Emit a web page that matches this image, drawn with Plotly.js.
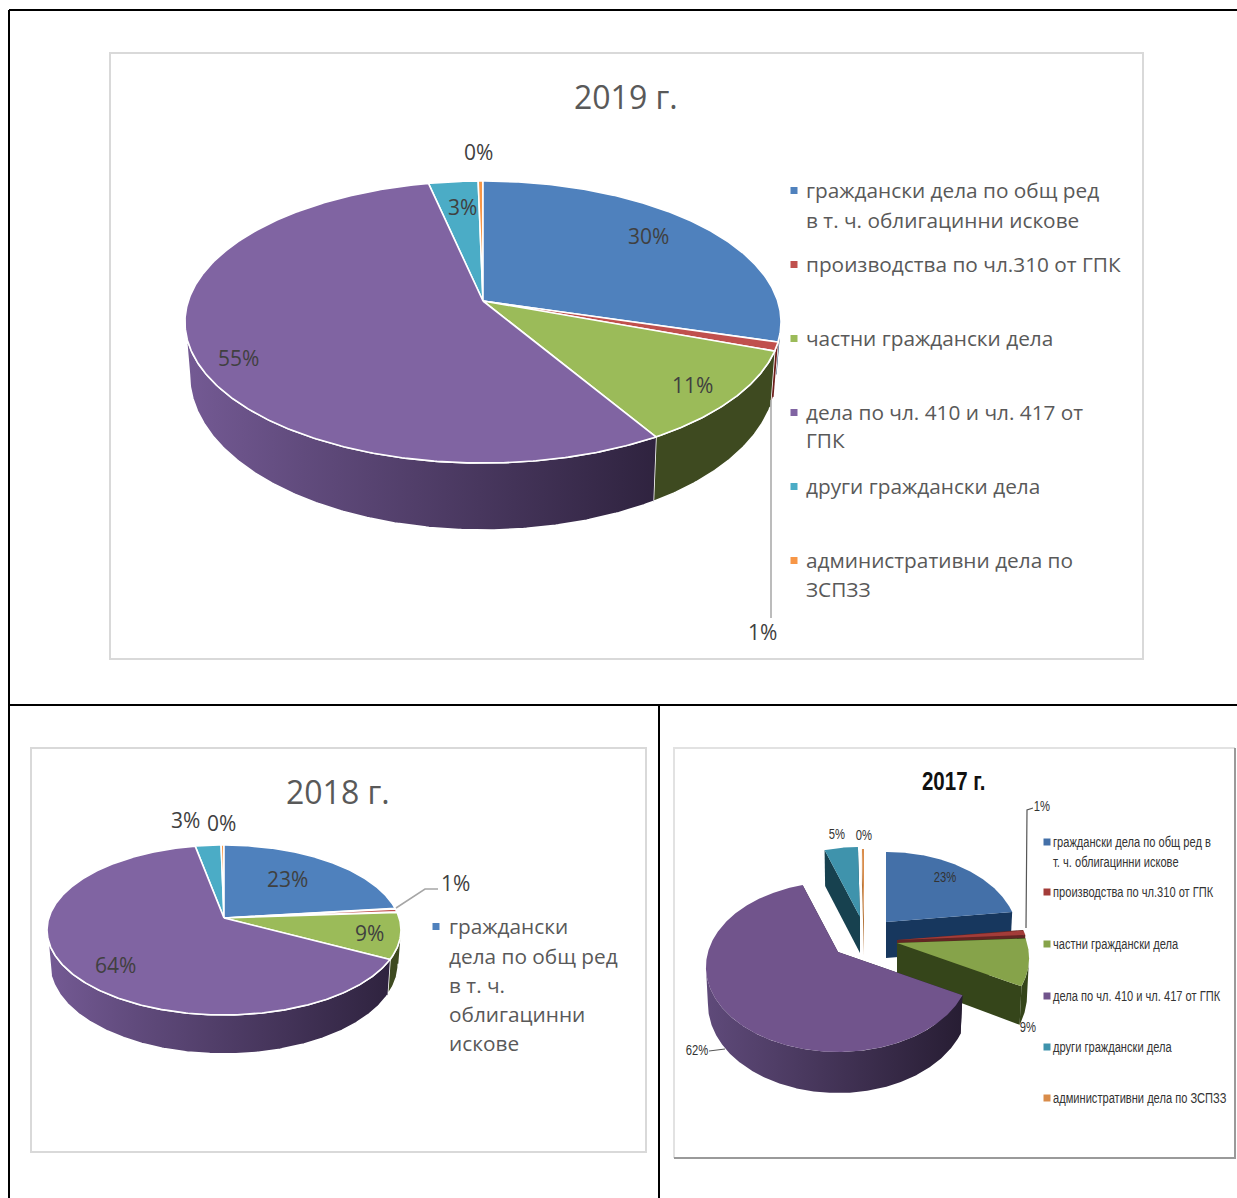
<!DOCTYPE html>
<html><head><meta charset="utf-8">
<script src="https://cdn.plot.ly/plotly-3.0.1.min.js"></script>
<style>html,body{margin:0;padding:0;background:#fff}#c{width:1237px;height:1198px}</style>
</head><body><div id="c"></div>
<script>
const categories = ['граждански дела по общ ред в т. ч. облигационни искове','производства по чл.310 от ГПК','частни граждански дела','дела по чл. 410 и чл. 417 от ГПК','други граждански дела','административни дела по ЗСПЗЗ'];
const values2019 = [29.6, 1.0, 10.85, 55.15, 3.1, 0.3];
const values2018 = [23.1, 0.7, 8.9, 64.3, 2.7, 0.3];
const values2017 = [23.0, 1.0, 9.0, 61.85, 4.85, 0.3];
const legend2019 = [['граждански дела по общ ред','в т. ч. облигацинни искове'],['производства по чл.310 от ГПК'],['частни граждански дела'],['дела по чл. 410 и чл. 417 от','ГПК'],['други граждански дела'],['административни дела по','ЗСПЗЗ']];
const legend2018 = [['граждански','дела по общ ред','в т. ч.','облигацинни','искове']];
const legend2017 = [['граждански дела по общ ред в','т. ч. облигацинни искове'],['производства по чл.310 от ГПК'],['частни граждански дела'],['дела по чл. 410 и чл. 417 от ГПК'],['други граждански дела'],['административни дела по ЗСПЗЗ']];

const palette = {
  top:['#4f81bd','#c0504d','#9bbb59','#8064a2','#4bacc6','#f79646'],
  wall:['#1a3a60','#6e1f1c','#3e4a20',null,'#1a4553','#9c5a20'],
  grad:[[0,'#745a94'],[0.25,'#614b7d'],[1,'#2f233f']]
};
const palette17 = {
  top:['#4470a8','#a33c39','#86a34a','#71548c','#3f93ac','#d98c4a'],
  wall:['#17375e','#632523','#35451a',null,'#17414f','#b5763c'],
  grad:[[0,'#5f4a7a'],[1,'#271d33']]
};
const traces = [];
function pt(g,c,f,base){
  const th=2*Math.PI*f,u=Math.sin(th),v=Math.cos(th),w=1+g.k*v;
  const s=base?g.s:1;
  return [c[0]+g.A*u/w*s, c[1]-g.B*v/w+(base?g.d0+g.d1*Math.max(0,-v):0)];
}
function arc(g,c,a,b,base){
  const n=Math.max(2,Math.ceil((b-a)*720)),xs=[],ys=[];
  for(let i=0;i<=n;i++){const p=pt(g,c,a+(b-a)*i/n,base);xs.push(p[0]);ys.push(p[1]);}
  return [xs,ys];
}
function drawPie(name,vals,g,pal){
  const tot=vals.reduce((a,b)=>a+b,0);
  const fR=Math.acos(-g.k)/(2*Math.PI),fL=1-fR;
  const line=g.white?{color:'#fff',width:g.white}:{width:0};
  let acc=0;const sl=vals.map((v,i)=>{const a=acc/tot;acc+=v;return {i,a,b:acc/tot,c:g.centers?g.centers[i]:g.c};});
  const order=g.order||[4,5,0,1,2,3];
  order.forEach(i=>{
    const s=sl[i];
    const fill=pal.wall[i];
    const wallStyle=fill?{fillcolor:fill}:{fillgradient:{type:'horizontal',colorscale:pal.grad}};
    if(g.centers){
      [s.a,s.b].forEach(f=>{
        const p=pt(g,s.c,f,false),q=pt(g,s.c,f,true);
        traces.push({x:[s.c[0],p[0],q[0],s.c[0]],y:[s.c[1],p[1],q[1],s.c[1]+g.d0],mode:'lines',fill:'toself',
          fillcolor:fill||pal.grad[pal.grad.length-1][1],line:{width:0},hoverinfo:'skip',showlegend:false});
      });
    }
    const a=Math.max(s.a,fR),b=Math.min(s.b,fL);
    if(b>a){
      const t=arc(g,s.c,a,b,false),o=arc(g,s.c,a,b,true);
      traces.push(Object.assign({x:t[0].concat(o[0].slice().reverse()),y:t[1].concat(o[1].slice().reverse()),
        mode:'lines',fill:'toself',line:line,hoverinfo:'skip',showlegend:false},wallStyle));
    }
    const t=arc(g,s.c,s.a,s.b,false);
    traces.push({x:[s.c[0]].concat(t[0],[s.c[0]]),y:[s.c[1]].concat(t[1],[s.c[1]]),mode:'lines',fill:'toself',
      fillcolor:pal.top[i],line:line,name:name+' '+categories[i],hoverinfo:'name',showlegend:false});
  });
}
drawPie('2019',values2019,{c:[483,301],A:294.7,B:137.9,k:0.149,s:0.985,d0:50,d1:17,white:1.6},palette);
drawPie('2018',values2018,{c:[224,918],A:175.2,B:83.3,k:0.141,s:0.985,d0:33,d1:6,white:1.6},palette);
drawPie('2017',values2017,{A:130,B:82.4,k:0.176,s:0.985,d0:36,d1:5,white:0,
  order:[0,4,5,1,2,3],
  centers:[[886,922],[897,940],[897,943],[838,952],[860,917],[864,919]]},palette17);

const ann=[];const narrow=[];
function T(text,x,y,size,color,family,extra,squeeze){
  if(squeeze) narrow.push([ann.length,squeeze]);
  ann.push(Object.assign({text:text,x:x,y:y,xref:'x',yref:'y',showarrow:false,xanchor:'center',yanchor:'middle',
    font:{size:size,color:color,family:family}},extra||{}));
}
const F19='"Open Sans", sans-serif',F17='"Liberation Sans", sans-serif';
const pct=v=>Math.round(v)+'%';
T('2019 г.',626,96,32,'#595959',F19);
T('2018 г.',338,791,32,'#595959',F19);
T('<b>2017 г.</b>',953,781,25,'#111',F17,null,0.82);
[[648,236],[762,632],[692,385],[238,358],[462,207],[478,152]].forEach((p,i)=>T(pct(values2019[i]),p[0],p[1],21,'#404040',F19));
[[287,879],[455,883],[369,933],[115,965],[185,820],[221,823]].forEach((p,i)=>T(pct(values2018[i]),p[0],p[1],21,'#404040',F19));
[[945,876],[1042,805],[1028,1026],[697,1049],[837,833],[864,834]].forEach((p,i)=>T(pct(values2017[i]),p[0],p[1],15,'#333',F17,null,0.75));

function legendBlock(lines,rows,mx,tx,size,color,family,colors,msize,squeeze){
  const lx=[],ly=[],lc=[];
  lines.forEach((ls,i)=>{
    ls.forEach((s,j)=>T(s,tx,rows[i][j],size,color,family,{xanchor:'left'},squeeze));
    lx.push(mx);ly.push(rows[i][0]+(squeeze?1:0.5));lc.push(colors[i]);
  });
  traces.push({x:lx,y:ly,mode:'markers',marker:{symbol:'square',size:msize,color:lc},hoverinfo:'skip',showlegend:false});
}
legendBlock(legend2019,[[190,220],[264],[338],[412,440],[486],[560,589]],794,804,20.8,'#595959',F19,palette.top,7);
legendBlock(legend2018,[[926,956,985,1014,1043]],436,447,20.8,'#595959',F19,palette.top,7);
legendBlock(legend2017,[[841,861],[891],[943],[995],[1046],[1097]],1047,1051,15,'#333',F17,palette17.top,7,0.74);

const rect=(x0,y0,x1,y1,c,w)=>({type:'rect',xref:'x',yref:'y',x0,y0,x1,y1,line:{color:c,width:w},fillcolor:'rgba(0,0,0,0)',layer:'below'});
const seg=(p,c,w)=>({type:'path',xref:'x',yref:'y',path:p,line:{color:c,width:w},layer:'above'});
const shapes=[
  rect(110,53,1143,659,'#d9d9d9',2),rect(31,748,646,1152,'#d9d9d9',2),
  seg('M674,1158L674,748L1235,748','#e2e2e2',2),seg('M674,1158L1235,1158L1235,748','#9a9a9a',2),
  seg('M9,10L1237,10','#000',2),seg('M9,10L9,1198','#000',2),seg('M9,705L1237,705','#000',2),seg('M659,705L659,1198','#000',2),
  seg('M771,400L771,618','#a6a6a6',1.5),
  seg('M396,908L425,889L438,889','#a6a6a6',1.5),
  seg('M1026,928L1027,810L1033,808','#555',1.2),
  seg('M709,1051L725,1049','#555',1)
];
Plotly.newPlot('c',traces,{
  width:1237,height:1198,margin:{l:0,r:0,t:0,b:0},paper_bgcolor:'#fff',plot_bgcolor:'#fff',showlegend:false,
  xaxis:{range:[0,1237],visible:false,fixedrange:true},
  yaxis:{range:[1198,0],visible:false,fixedrange:true},
  annotations:ann,shapes:shapes
},{displayModeBar:false,staticPlot:true}).then(()=>{
  const groups=document.querySelectorAll('#c .annotation');
  narrow.forEach(([idx,r])=>{
    const g=groups[idx];if(!g)return;
    const el=g.querySelector('text');if(!el)return;
    const b=el.getBBox();
    const ax=ann[idx].xanchor==='left'?b.x:b.x+b.width/2;
    el.setAttribute('transform','translate('+ax+',0) scale('+r+',1) translate('+(-ax)+',0)');
  });
});
</script></body></html>
